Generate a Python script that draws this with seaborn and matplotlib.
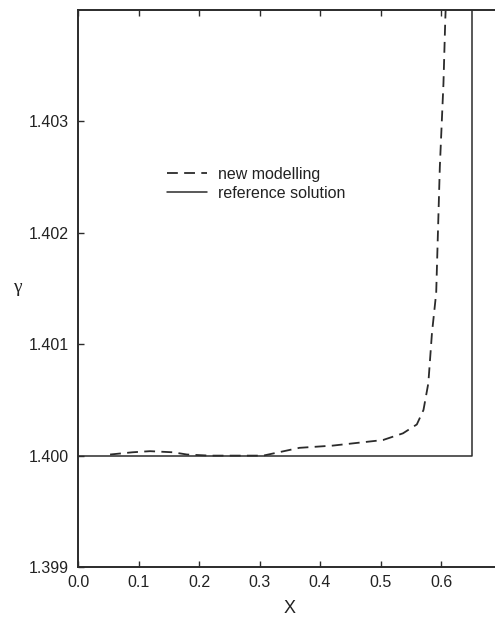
import matplotlib
matplotlib.use("Agg")
import matplotlib.pyplot as plt
import seaborn as sns
import pandas as pd

# new modelling: gamma profile along x
x_model = [0.053, 0.09, 0.119, 0.157, 0.18, 0.218, 0.26, 0.306, 0.366, 0.421,
           0.504, 0.537, 0.560, 0.571, 0.579, 0.585, 0.592, 0.598, 0.604, 0.607, 0.609]
g_model = [1.40001, 1.40003, 1.40004, 1.40003, 1.40001, 1.40000, 1.40000, 1.40000,
           1.40007, 1.40009, 1.40014, 1.40020, 1.40028, 1.40041, 1.40065, 1.40110,
           1.40146, 1.40259, 1.40334, 1.40391, 1.40420]

# reference solution: constant gamma up to the front, then a jump
x_ref = [0.0, 0.651, 0.651]
g_ref = [1.400, 1.400, 1.4045]

x_ticks = [0.0, 0.1, 0.2, 0.3, 0.4, 0.5, 0.6]
y_ticks = [1.399, 1.400, 1.401, 1.402, 1.403]

sns.set_style("ticks")
plt.rcParams["font.family"] = ["Liberation Sans", "DejaVu Sans"]

df_model = pd.DataFrame({"x": x_model, "gamma": g_model})
df_ref = pd.DataFrame({"x": x_ref, "gamma": g_ref})

fig = plt.figure(figsize=(4.95, 6.17), dpi=100)
ax = fig.add_axes([0.1576, 0.081, 0.8556, 0.9027])

ink = "#2b2b2b"
sns.lineplot(data=df_ref, x="x", y="gamma", ax=ax, color=ink, lw=1.1,
             sort=False, estimator=None, label="reference solution")
sns.lineplot(data=df_model, x="x", y="gamma", ax=ax, color=ink, lw=1.3,
             sort=False, estimator=None, label="new modelling")
ax.lines[1].set_dashes([6, 3.5])

ax.set_xlim(0.0, 0.7)
ax.set_ylim(1.399, 1.404)
ax.set_xticks(x_ticks)
ax.set_xticklabels([f"{v:.1f}" for v in x_ticks])
ax.set_yticks(y_ticks)
ax.set_yticklabels([f"{v:.3f}" for v in y_ticks])
ax.tick_params(direction="in", length=4, width=1.0, color=ink,
               labelsize=11.5, labelcolor="#222222", top=True)
ax.tick_params(axis="x", pad=6)
ax.tick_params(axis="y", pad=6.5)
for side in ["left", "bottom", "top"]:
    ax.spines[side].set_linewidth(1.4)
    ax.spines[side].set_color(ink)
ax.spines["right"].set_visible(False)

ax.set_xlabel("X", fontsize=13, color="#222222", labelpad=7)
ax.set_ylabel("γ", fontsize=14, color="#222222", rotation=0,
              family=["Liberation Serif", "DejaVu Serif"])
ax.yaxis.set_label_coords(-0.142, 0.486)

handles, labels = ax.get_legend_handles_labels()
order = [1, 0]
leg = ax.legend([handles[i] for i in order], [labels[i] for i in order],
                loc="upper left", bbox_to_anchor=(0.195, 0.73), frameon=False,
                fontsize=11.5, handlelength=2.5, handletextpad=0.7,
                labelspacing=0.25, borderaxespad=0)
for t in leg.get_texts():
    t.set_color("#222222")

fig.savefig("out.png", dpi=100)
